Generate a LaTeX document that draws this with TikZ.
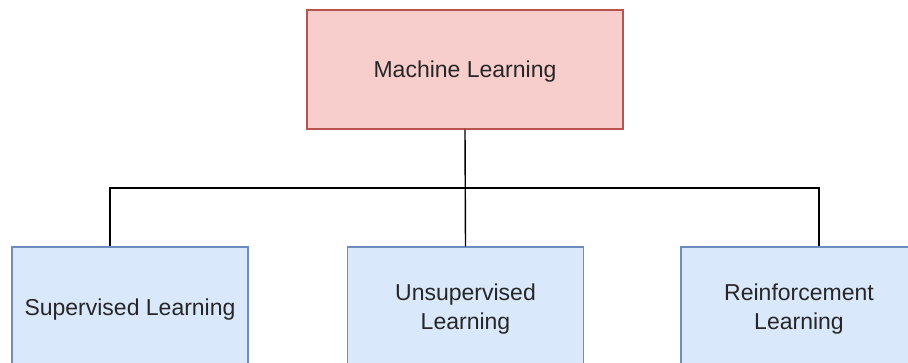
\documentclass[tikz,border=0pt]{standalone}
\usepackage{fontspec}
\setmainfont{Liberation Sans}
\usetikzlibrary{calc}
\definecolor{pinkfill}{HTML}{F8CECC}
\definecolor{pinkline}{HTML}{B85450}
\definecolor{bluefill}{HTML}{DAE8FC}
\definecolor{blueline}{HTML}{6C8EBF}
\definecolor{txt}{HTML}{262626}
\tikzset{
  box/.style={rectangle, draw, line width=1.2pt, inner sep=0pt, align=center,
    text=txt, text depth=0pt, font=\fontsize{23}{29}\selectfont},
  rootbox/.style={box, fill=pinkfill, draw=pinkline, minimum width=316pt, minimum height=119pt},
  leafbox/.style={box, fill=bluefill, draw=blueline, minimum width=236pt, minimum height=120pt},
  conn/.style={draw=black, line width=1.4pt}
}
\begin{document}
\begin{tikzpicture}[x=1pt,y=-1pt]
\useasboundingbox (0,0) rectangle (908,362);
\clip (0,0) rectangle (908,362);
\fill[white] (0,0) rectangle (908,362);
\node[rootbox] (ml) at (465,69.5) {Machine Learning};
\node[leafbox] (sl) at (130,307) {Supervised Learning};
\node[leafbox] (ul) at (465.5,307) {Unsupervised\\Learning};
\node[leafbox] (rl) at (799,307) {Reinforcement\\Learning};
\coordinate (j) at (465,188);
\draw[conn] (ml.south) -- (ul.north);
\draw[conn] (j) -| ([xshift=-20pt]sl.north);
\draw[conn] (j) -| ([xshift=20pt]rl.north);
\end{tikzpicture}
\end{document}
